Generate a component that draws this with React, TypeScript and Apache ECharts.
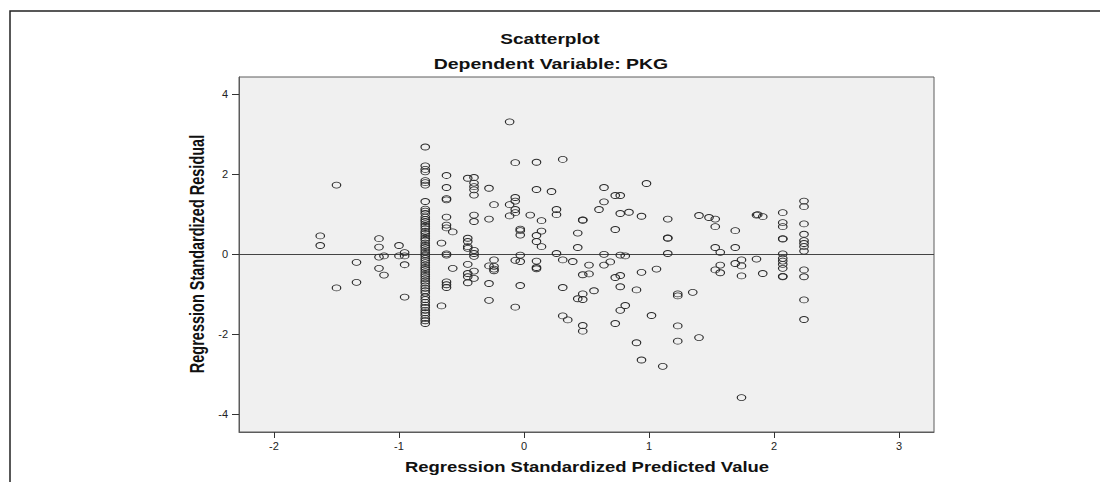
import React, { useEffect, useRef } from 'react';
import * as echarts from 'echarts';

const chartTitle = 'Scatterplot';
const chartSubtitle = 'Dependent Variable: PKG';
const xAxisTitle = 'Regression Standardized Predicted Value';
const yAxisTitle = 'Regression Standardized Residual';

const xTickValues = [-2, -1, 0, 1, 2, 3];
const yTickValues = [-4, -2, 0, 2, 4];
const xRange = [-2.28, 3.28];
const yRange = [-4.44, 4.43];
const referenceResidual = 0;

// [predicted, residual]
const farLeftPoints: [number, number][] = [
  [-1.63, 0.46], [-1.63, 0.22],
  [-1.5, 1.73], [-1.5, -0.84],
  [-1.34, -0.2], [-1.34, -0.7],
  [-1.16, 0.39], [-1.16, 0.18], [-1.16, -0.07], [-1.16, -0.35],
  [-1.12, -0.04], [-1.12, -0.52],
  [-1.0, 0.22], [-1.0, -0.04],
  [-0.955, 0.04], [-0.955, -0.04], [-0.955, -0.26], [-0.955, -1.07],
];

const denseColumnX = -0.79;
const denseColumnResiduals = [
  2.68, 2.21, 2.12, 2.06, 1.84, 1.79, 1.73, 1.32, 1.13, 1.08, 1.02,
  0.93, 0.87, 0.82, 0.76, 0.7, 0.64, 0.57, 0.52, 0.46, 0.4, 0.35, 0.28,
  0.22, 0.17, 0.11, 0.05, 0.0, -0.04, -0.1, -0.15, -0.21, -0.27, -0.33,
  -0.38, -0.44, -0.5, -0.55, -0.61, -0.67, -0.72, -0.79, -0.85, -0.91,
  -0.97, -1.06, -1.13, -1.2, -1.27, -1.33, -1.4, -1.46, -1.52, -1.6,
  -1.66, -1.73,
];

const leftCenterPoints: [number, number][] = [
  [-0.62, 1.97], [-0.62, 1.67], [-0.62, 1.39], [-0.62, 1.36], [-0.62, 0.93],
  [-0.62, 0.73], [-0.62, 0.66], [-0.57, 0.56], [-0.66, 0.28], [-0.62, 0.01],
  [-0.62, -0.02], [-0.57, -0.35], [-0.62, -0.69], [-0.62, -0.76], [-0.62, -0.83],
  [-0.66, -1.29],
  [-0.45, 1.9], [-0.45, 0.4], [-0.45, 0.32], [-0.45, 0.19], [-0.45, 0.15],
  [-0.45, -0.25], [-0.45, -0.48], [-0.45, -0.56], [-0.45, -0.71],
  [-0.4, 1.92], [-0.4, 1.78], [-0.4, 1.69], [-0.4, 1.61], [-0.4, 1.48],
  [-0.4, 0.98], [-0.4, 0.82], [-0.4, 0.1], [-0.4, 0.02], [-0.4, -0.05],
  [-0.4, -0.42], [-0.4, -0.6],
  [-0.28, 1.65], [-0.28, 0.88], [-0.28, -0.29], [-0.28, -0.73], [-0.28, -1.15],
  [-0.24, 1.24], [-0.24, -0.14], [-0.24, -0.3], [-0.24, -0.37], [-0.24, -0.41],
];

const centerPoints: [number, number][] = [
  [-0.115, 3.31], [-0.115, 1.24], [-0.115, 0.96],
  [-0.07, 2.29], [-0.07, 1.42], [-0.07, 1.33], [-0.07, 1.12], [-0.07, 1.04],
  [-0.07, -0.15], [-0.07, -1.32],
  [-0.03, 0.63], [-0.03, 0.59], [-0.03, 0.48], [-0.03, -0.02], [-0.03, -0.18], [-0.03, -0.78],
  [0.05, 0.98],
  [0.1, 2.3], [0.1, 1.62], [0.1, 0.47], [0.1, 0.32], [0.1, -0.17], [0.1, -0.33], [0.1, -0.36],
  [0.14, 0.84], [0.14, 0.58], [0.14, 0.19],
  [0.22, 1.57], [0.26, 1.12], [0.26, 0.99], [0.26, 0.02],
  [0.31, 2.37], [0.31, -0.14], [0.31, -0.83], [0.31, -1.54], [0.35, -1.64],
  [0.39, -0.18],
  [0.43, 0.53], [0.43, 0.17], [0.43, -1.11],
  [0.47, 0.86], [0.47, 0.85], [0.47, -0.51], [0.47, -0.99], [0.47, -1.13], [0.47, -1.78], [0.47, -1.92],
  [0.52, -0.27], [0.52, -0.49], [0.56, -0.91],
];

const rightCenterPoints: [number, number][] = [
  [0.6, 1.12], [0.64, 1.67], [0.64, 1.31], [0.64, 0.0], [0.64, -0.27], [0.69, -0.19],
  [0.73, 1.47], [0.73, 0.62], [0.73, -0.58], [0.73, -1.73],
  [0.77, 1.47], [0.77, 1.02], [0.77, -0.02], [0.77, -0.53], [0.77, -0.81], [0.77, -1.4],
  [0.81, -0.04], [0.81, -1.28], [0.84, 1.05],
  [0.9, -0.89], [0.9, -2.21], [0.94, 0.95], [0.94, -0.45], [0.94, -2.64],
  [0.98, 1.77], [1.02, -1.53], [1.06, -0.37], [1.11, -2.8],
  [1.15, 0.88], [1.15, 0.4], [1.15, 0.41], [1.15, 0.02],
  [1.23, -0.99], [1.23, -1.04], [1.23, -1.79], [1.23, -2.17],
  [1.35, -0.95], [1.4, 0.97], [1.4, -2.08],
];

const rightPoints: [number, number][] = [
  [1.48, 0.92], [1.53, 0.88], [1.53, 0.69], [1.53, 0.17], [1.53, -0.39],
  [1.57, 0.05], [1.57, -0.27], [1.57, -0.46],
  [1.69, 0.59], [1.69, 0.17], [1.69, -0.23],
  [1.74, -0.14], [1.74, -0.29], [1.74, -0.54], [1.74, -3.58],
  [1.86, 0.98], [1.87, 0.99], [1.86, -0.12], [1.91, 0.94], [1.91, -0.48],
];

const column207X = 2.07;
const column207Residuals = [1.04, 0.79, 0.69, 0.38, 0.39, 0.01, -0.1, -0.17, -0.25, -0.35, -0.55, -0.56];
const column224X = 2.24;
const column224Residuals = [1.33, 1.19, 0.76, 0.5, 0.34, 0.27, 0.19, 0.08, -0.39, -0.56, -1.14, -1.63];

const FONT = '"Liberation Sans", Arial, Helvetica, sans-serif';
const STRETCH = 1.36;

function textEl(text: string, x: number, y: number, size: number, extra: any = {}) {
  return {
    type: 'text',
    x,
    y,
    silent: true,
    ...extra,
    style: {
      text,
      x: 0,
      y: 0,
      fill: '#111',
      fontSize: size,
      fontWeight: 'bold',
      fontFamily: FONT,
      align: 'center',
      verticalAlign: 'middle',
      textAlign: 'center',
      textVerticalAlign: 'middle',
    },
  };
}

export default function App() {
  const ref = useRef<HTMLDivElement>(null);

  useEffect(() => {
    if (!ref.current) return;
    const chart = echarts.init(ref.current, null, { renderer: 'svg' });

    const points: [number, number][] = [
      ...farLeftPoints,
      ...denseColumnResiduals.map((r) => [denseColumnX, r] as [number, number]),
      ...leftCenterPoints,
      ...centerPoints,
      ...rightCenterPoints,
      ...rightPoints,
      ...column207Residuals.map((r) => [column207X, r] as [number, number]),
      ...column224Residuals.map((r) => [column224X, r] as [number, number]),
    ];

    chart.setOption({
      animation: false,
      backgroundColor: '#ffffff',
      textStyle: { fontFamily: FONT },
      grid: {
        left: 239,
        top: 77,
        width: 695,
        height: 355,
        show: true,
        backgroundColor: '#f0f0f0',
        borderColor: '#5c5c5c',
        borderWidth: 1,
      },
      xAxis: {
        type: 'value',
        min: xRange[0],
        max: xRange[1],
        splitLine: { show: false },
        axisLine: { show: true, onZero: false, lineStyle: { color: '#5c5c5c', width: 1 } },
        axisTick: {
          show: true,
          length: 6,
          customValues: xTickValues,
          lineStyle: { color: '#333', width: 1 },
        },
        axisLabel: {
          customValues: xTickValues,
          fontSize: 11,
          color: '#222',
          margin: 8,
          fontFamily: FONT,
        },
      },
      yAxis: {
        type: 'value',
        min: yRange[0],
        max: yRange[1],
        splitLine: { show: false },
        axisLine: { show: true, onZero: false, lineStyle: { color: '#5c5c5c', width: 1 } },
        axisTick: {
          show: true,
          length: 7,
          customValues: yTickValues,
          lineStyle: { color: '#333', width: 1 },
        },
        axisLabel: {
          customValues: yTickValues,
          fontSize: 11,
          color: '#222',
          margin: 11,
          fontFamily: FONT,
        },
      },
      graphic: [
        {
          type: 'polyline',
          silent: true,
          shape: { points: [[10, 482], [10, 11], [1100, 11]] },
          style: { stroke: '#222', lineWidth: 1.5, fill: 'none' },
        },
        textEl(chartTitle, 550, 39, 14, { scaleX: STRETCH }),
        textEl(chartSubtitle, 551, 64, 14, { scaleX: STRETCH + 0.03 }),
        textEl(xAxisTitle, 587, 467, 14, { scaleX: 1.32 }),
        textEl(yAxisTitle, 197, 254, 14.5, { rotation: Math.PI / 2, scaleY: STRETCH }),
      ],
      series: [
        {
          type: 'scatter',
          data: points,
          symbol: 'path://M0 5A5 5 0 1 1 10 5A5 5 0 1 1 0 5Z',
          symbolSize: [8.5, 6],
          itemStyle: {
            color: 'rgba(0,0,0,0)',
            borderColor: '#2a2a2a',
            borderWidth: 1,
            opacity: 1,
          },
          emphasis: { disabled: true },
          silent: true,
          z: 3,
          markLine: {
            silent: true,
            symbol: ['none', 'none'],
            label: { show: false },
            lineStyle: { color: '#444', width: 1, type: 'solid' },
            emphasis: { disabled: true },
            data: [{ yAxis: referenceResidual }],
            z: 2,
          },
        },
      ],
    });

    return () => chart.dispose();
  }, []);

  return (
    <div
      ref={ref}
      style={{ position: 'fixed', left: 0, top: 0, width: 1100, height: 482, background: '#fff' }}
    />
  );
}
